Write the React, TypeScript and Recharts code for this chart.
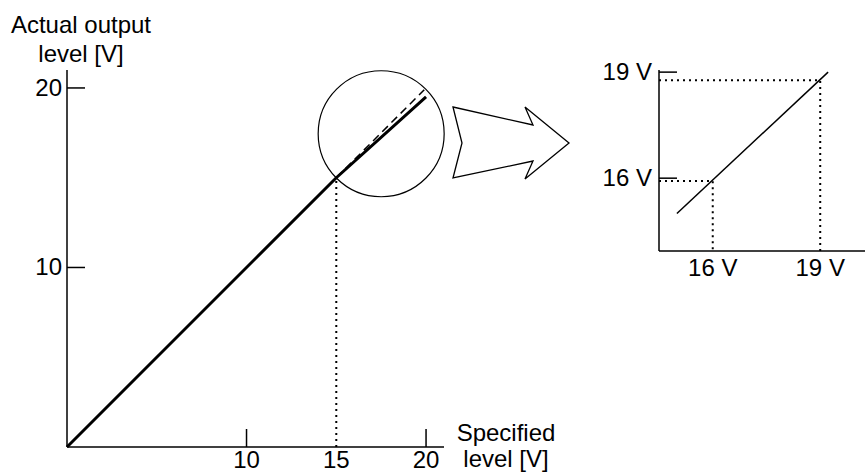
import { Line, LineChart, ReferenceDot, XAxis, YAxis } from "recharts";

const FONT = '"Liberation Sans", Arial, sans-serif';

// main chart
const mainTicksX = [10, 15, 20];
const mainTicksY = [10, 20];
const actualOutput = [
  { x: 0, y: 0 },
  { x: 15, y: 15 },
  { x: 20, y: 19.5 },
];
const idealOutput = [
  { x: 15, y: 15 },
  { x: 19.9, y: 19.9 },
];
const guide15 = [
  { x: 15, y: 0 },
  { x: 15, y: 15 },
];
const zoomCenter = { x: 17.5, y: 17.45 };

// inset (zoomed) chart
const insetTicks = [16, 19];
const insetOutput = [
  { x: 15, y: 15 },
  { x: 19.22, y: 19.0 },
];
const guide16 = [
  { x: 14.5, y: 15.92 },
  { x: 16, y: 15.92 },
  { x: 16, y: 13.94 },
];
const guide19 = [
  { x: 14.5, y: 18.77 },
  { x: 19, y: 18.77 },
  { x: 19, y: 13.94 },
];

const W = 865;
const H = 474;

function makeYTick(unit: string, gap: number) {
  return (props: any) => {
    const { x, y, payload } = props;
    const ax = x + gap;
    return (
      <g>
        <line x1={ax} x2={ax + 18} y1={y} y2={y} stroke="#000" strokeWidth={1.5} />
        <text x={x} y={y + 8} textAnchor="end" fontSize={24} fontFamily={FONT} fill="#000">
          {payload.value}
          {unit}
        </text>
      </g>
    );
  };
}

function makeXTick(unit: string, marks: number[], dy: number) {
  return (props: any) => {
    const { x, y, payload } = props;
    return (
      <g>
        {marks.includes(payload.value) && (
          <line x1={x} x2={x} y1={y} y2={y - 18} stroke="#000" strokeWidth={1.5} />
        )}
        <text x={x} y={y + dy} textAnchor="middle" fontSize={24} fontFamily={FONT} fill="#000">
          {payload.value}
          {unit}
        </text>
      </g>
    );
  };
}

const axisLine = { stroke: "#000", strokeWidth: 1.5 };

export default function App() {
  return (
    <div style={{ position: "absolute", left: 0, top: 0, width: W, height: H, background: "#fff" }}>
      <div style={{ position: "absolute", left: 0, top: 0 }}>
        <LineChart width={W} height={H} margin={{ top: 70, right: 421, bottom: 26, left: 66 }}>
          <XAxis
            type="number"
            dataKey="x"
            domain={[0, 21]}
            ticks={mainTicksX}
            height={1}
            tickSize={0}
            tickMargin={0}
            tickLine={false}
            axisLine={axisLine}
            tick={makeXTick("", [10, 20], 21)}
            interval={0}
          />
          <YAxis
            type="number"
            dataKey="y"
            domain={[0, 21]}
            ticks={mainTicksY}
            width={1}
            tickSize={0}
            tickMargin={5}
            tickLine={false}
            axisLine={axisLine}
            tick={makeYTick("", 5)}
            interval={0}
          />
          <Line
            data={guide15}
            dataKey="y"
            stroke="#000"
            strokeWidth={2}
            strokeDasharray="2 4"
            dot={false}
            isAnimationActive={false}
          />
          <Line
            data={idealOutput}
            dataKey="y"
            stroke="#000"
            strokeWidth={1.5}
            strokeDasharray="8 5"
            dot={false}
            isAnimationActive={false}
          />
          <Line
            data={actualOutput}
            dataKey="y"
            stroke="#000"
            strokeWidth={3}
            dot={false}
            isAnimationActive={false}
          />
          <ReferenceDot
            x={zoomCenter.x}
            y={zoomCenter.y}
            r={63}
            fill="none"
            stroke="#000"
            strokeWidth={1.2}
            ifOverflow="visible"
          />
        </LineChart>
      </div>
      <div style={{ position: "absolute", left: 0, top: 0 }}>
        <LineChart width={W} height={H} margin={{ top: 70, right: 0, bottom: 222, left: 658 }}>
          <XAxis
            type="number"
            dataKey="x"
            domain={[14.5, 20.25]}
            ticks={insetTicks}
            height={1}
            tickSize={0}
            tickMargin={0}
            tickLine={false}
            axisLine={axisLine}
            tick={makeXTick(" V", [], 25)}
            interval={0}
          />
          <YAxis
            type="number"
            dataKey="y"
            domain={[13.94, 19.06]}
            ticks={insetTicks}
            width={1}
            tickSize={0}
            tickMargin={7}
            tickLine={false}
            axisLine={axisLine}
            tick={makeYTick(" V", 7)}
            interval={0}
          />
          <Line
            data={guide16}
            dataKey="y"
            stroke="#000"
            strokeWidth={2}
            strokeDasharray="2 4"
            dot={false}
            isAnimationActive={false}
          />
          <Line
            data={guide19}
            dataKey="y"
            stroke="#000"
            strokeWidth={2}
            strokeDasharray="2 4"
            dot={false}
            isAnimationActive={false}
          />
          <Line
            data={insetOutput}
            dataKey="y"
            stroke="#000"
            strokeWidth={1.5}
            dot={false}
            isAnimationActive={false}
          />
        </LineChart>
      </div>
      <svg
        width={W}
        height={H}
        style={{ position: "absolute", left: 0, top: 0, pointerEvents: "none" }}
      >
        <polygon
          points="453,107 533,125 525,107 569,143 525,179 533,161 453,178 462,143"
          fill="none"
          stroke="#000"
          strokeWidth={1.3}
          strokeLinejoin="miter"
        />
        <g fontFamily={FONT} fontSize={24} fill="#000" textAnchor="middle">
          <text x={81} y={33}>Actual output</text>
          <text x={81} y={62}>level [V]</text>
          <text x={506} y={441}>Specified</text>
          <text x={506} y={467}>level [V]</text>
        </g>
      </svg>
    </div>
  );
}
